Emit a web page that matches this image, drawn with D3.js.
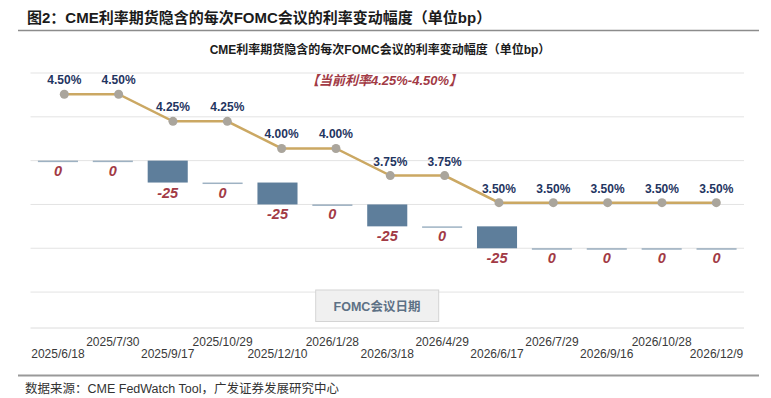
<!DOCTYPE html>
<html>
<head>
<meta charset="utf-8">
<script src="https://d3js.org/d3.v7.min.js"></script>
<style>
  body { margin: 0; background: #fff; }
  text { font-family: "Liberation Sans", Arial, "Noto Sans CJK SC", sans-serif; }
</style>
</head>
<body>
<div id="chart"></div>
<script>
// FOMC meeting dates
var dates = ["2025/6/18", "2025/7/30", "2025/9/17", "2025/10/29", "2025/12/10", "2026/1/28",
  "2026/3/18", "2026/4/29", "2026/6/17", "2026/7/29", "2026/9/16", "2026/10/28", "2026/12/9"];
// implied upper bound of rate after each meeting (%)
var rates = [4.50, 4.50, 4.25, 4.25, 4.00, 4.00, 3.75, 3.75, 3.50, 3.50, 3.50, 3.50, 3.50];
// change at each meeting (bp)
var changes = [0, 0, -25, 0, -25, 0, -25, 0, -25, 0, 0, 0, 0];
var gridTicks = [100, 50, 0, -50, -100, -150];

var width = 771, height = 398;
var barColor = "#5e7e9b", lineColor = "#cba863", navy = "#1f3561", red = "#a23a45";

var svg = d3.select("#chart").append("svg")
  .attr("width", width)
  .attr("height", height)
  .style("background", "white");

// waterfall: each bar starts where the previous one ended
var bars = [];
var level = 0;
changes.forEach(function (c, i) {
  bars.push({ date: dates[i], from: level, to: level + c, value: c });
  level += c;
});

var x = d3.scaleBand().domain(dates).range([30.5, 744]).paddingInner(0.27).paddingOuter(0.135);
var xLine = d3.scalePoint().domain(dates).range([64.3, 716.3]);
var y = d3.scaleLinear().domain([-191, 100]).range([328, 73]);
var y2 = d3.scaleLinear().domain([2.344, 4.696]).range([328, 73]);

// titles
svg.append("text")
  .attr("x", 27).attr("y", 22.5)
  .attr("font-size", 15).attr("font-weight", "bold").attr("fill", "#1b1b1b")
  .text("图2：CME利率期货隐含的每次FOMC会议的利率变动幅度（单位bp）");
svg.append("line")
  .attr("x1", 18).attr("x2", 759).attr("y1", 30.5).attr("y2", 30.5)
  .attr("stroke", "#8c8c8c").attr("stroke-width", 1.5);
svg.append("text")
  .attr("x", 380).attr("y", 54).attr("text-anchor", "middle")
  .attr("font-size", 12).attr("font-weight", "bold").attr("fill", "#1b1b1b")
  .text("CME利率期货隐含的每次FOMC会议的利率变动幅度（单位bp）");

// gridlines
svg.append("g").selectAll("line")
  .data(gridTicks).enter().append("line")
  .attr("x1", 30.5).attr("x2", 744)
  .attr("y1", function (d) { return y(d); })
  .attr("y2", function (d) { return y(d); })
  .attr("stroke", "#e3e3e3").attr("stroke-width", 1);
svg.append("line")
  .attr("x1", 30.5).attr("x2", 744).attr("y1", y(-191)).attr("y2", y(-191))
  .attr("stroke", "#dcdcdc").attr("stroke-width", 1);

// bars
svg.append("g").selectAll("rect")
  .data(bars).enter().append("rect")
  .attr("x", function (d) { return x(d.date); })
  .attr("width", x.bandwidth())
  .attr("y", function (d) { return y(Math.max(d.from, d.to)); })
  .attr("height", function (d) { return Math.max(1.5, Math.abs(y(d.to) - y(d.from))); })
  .attr("fill", barColor)
  .attr("opacity", function (d) { return d.value === 0 ? 0.6 : 1; });

svg.append("g").selectAll("text")
  .data(bars).enter().append("text")
  .attr("x", function (d) { return x(d.date) + x.bandwidth() / 2; })
  .attr("y", function (d) { return y(d.to) + 15; })
  .attr("text-anchor", "middle")
  .attr("font-size", 14.5).attr("font-weight", "bold").attr("font-style", "italic")
  .attr("fill", red)
  .text(function (d) { return d.value; });

// rate line
var line = d3.line()
  .x(function (d, i) { return xLine(dates[i]); })
  .y(function (d) { return y2(d); });
svg.append("path")
  .datum(rates)
  .attr("d", line)
  .attr("fill", "none").attr("stroke", lineColor).attr("stroke-width", 2.5);

svg.append("g").selectAll("circle")
  .data(rates).enter().append("circle")
  .attr("cx", function (d, i) { return xLine(dates[i]); })
  .attr("cy", function (d) { return y2(d); })
  .attr("r", 4.5)
  .attr("fill", "#aaa59c");

svg.append("g").selectAll("text")
  .data(rates).enter().append("text")
  .attr("x", function (d, i) { return xLine(dates[i]); })
  .attr("y", function (d) { return y2(d) - 10; })
  .attr("text-anchor", "middle")
  .attr("font-size", 12).attr("font-weight", "bold").attr("fill", navy)
  .text(function (d) { return d3.format(".2f")(d) + "%"; });

// annotation
svg.append("text")
  .attr("x", 306).attr("y", 84.5)
  .attr("font-size", 13).attr("font-weight", "bold").attr("font-style", "italic")
  .attr("fill", red)
  .text("【当前利率4.25%-4.50%】");

// axis title box
svg.append("rect")
  .attr("x", 315.7).attr("y", 290).attr("width", 123).attr("height", 31.5)
  .attr("fill", "#f0f0f0").attr("stroke", "#d4d4d4");
svg.append("text")
  .attr("x", 377).attr("y", 310.5).attr("text-anchor", "middle")
  .attr("font-size", 12.5).attr("font-weight", "bold").attr("fill", "#5d7185")
  .text("FOMC会议日期");

// category labels, staggered
svg.append("g").selectAll("text")
  .data(dates).enter().append("text")
  .attr("x", function (d) { return x(d) + x.bandwidth() / 2; })
  .attr("y", function (d, i) { return i % 2 === 0 ? 358 : 345.5; })
  .attr("text-anchor", "middle")
  .attr("font-size", 12).attr("fill", "#3a3a3a")
  .text(function (d) { return d; });

// footer
svg.append("line")
  .attr("x1", 18).attr("x2", 759).attr("y1", 375.5).attr("y2", 375.5)
  .attr("stroke", "#999").attr("stroke-width", 2);
svg.append("text")
  .attr("x", 25).attr("y", 393)
  .attr("font-size", 12.5).attr("fill", "#333")
  .text("数据来源：CME FedWatch Tool，广发证券发展研究中心");
</script>
</body>
</html>
